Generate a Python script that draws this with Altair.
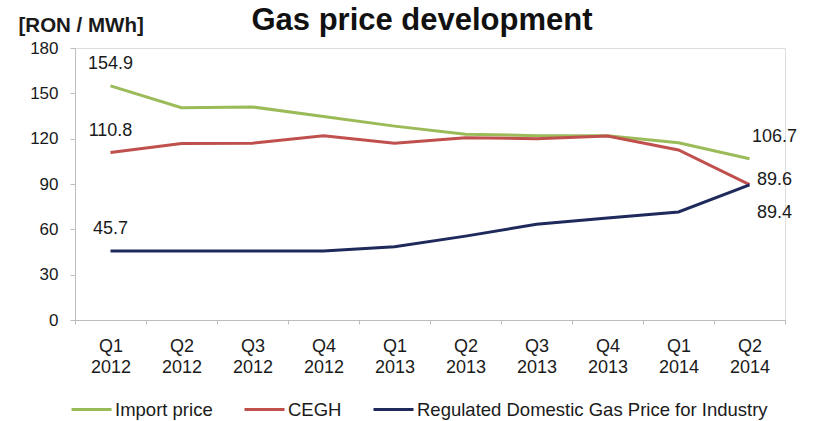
import altair as alt
import pandas as pd

quarters = ["Q1 2012", "Q2 2012", "Q3 2012", "Q4 2012", "Q1 2013",
            "Q2 2013", "Q3 2013", "Q4 2013", "Q1 2014", "Q2 2014"]
series_names = ["Import price", "CEGH", "Regulated Domestic Gas Price for Industry"]
import_price = [154.9, 140.5, 141.0, 134.6, 128.3, 123.0, 122.0, 122.0, 117.3, 106.7]
cegh = [110.8, 116.8, 117.0, 122.0, 117.0, 120.6, 120.0, 121.8, 112.5, 89.6]
regulated = [45.7, 45.7, 45.7, 45.7, 48.5, 55.5, 63.3, 67.5, 71.5, 89.4]
colors = ["#9BBB59", "#C0504D", "#1F2A5C"]
y_ticks = [0, 30, 60, 90, 120, 150, 180]

rows = []
for s, vals in zip(series_names, [import_price, cegh, regulated]):
    for q, v in zip(quarters, vals):
        rows.append({"quarter": q, "series": s, "value": v})
df = pd.DataFrame(rows)

FONT = "Liberation Sans"
TXT = "#1a1a1a"

x_enc = alt.X(
    "quarter:N", sort=quarters,
    scale=alt.Scale(type="band", paddingInner=0, paddingOuter=0),
    axis=alt.Axis(title=None, labelAngle=0, tickBand="extent",
                  labelExpr="split(datum.label, ' ')",
                  labelFont=FONT, labelFontSize=18, labelColor=TXT,
                  labelLineHeight=21, labelPadding=13,
                  domainColor="#BDBDBD", tickColor="#BDBDBD", tickSize=4,
                  grid=False),
)
y_enc = alt.Y(
    "value:Q", scale=alt.Scale(domain=[0, 180]),
    axis=alt.Axis(values=y_ticks, title="[RON / MWh]", titleAngle=0,
                  titleX=-57, titleY=-23, titleAlign="left",
                  titleBaseline="middle", titleFont=FONT, titleFontSize=20.5,
                  titleFontWeight="bold", titleColor=TXT,
                  labelFont=FONT, labelFontSize=17, labelColor=TXT,
                  labelPadding=12, tickSize=5, tickColor="#BDBDBD",
                  domainColor="#BDBDBD", grid=False),
)

base = alt.Chart(df)

lines = base.mark_line(strokeWidth=3).encode(
    x=x_enc, y=y_enc,
    color=alt.Color("series:N",
                    scale=alt.Scale(domain=series_names, range=colors),
                    sort=series_names,
                    legend=alt.Legend(title=None, orient="none",
                                      legendX=-5, legendY=340,
                                      direction="horizontal",
                                      symbolType="stroke", symbolSize=1600,
                                      symbolStrokeWidth=3,
                                      labelFont=FONT, labelFontSize=18.5,
                                      labelColor=TXT, labelOffset=2,
                                      labelLimit=0, columnPadding=25)),
)

def label_layer(flt, dx, dy):
    return base.mark_text(dx=dx, dy=dy, font=FONT, fontSize=18, color=TXT,
                          align="center", baseline="middle").encode(
        x=alt.X("quarter:N", sort=quarters), y="value:Q",
        text=alt.Text("value:Q", format=".1f"),
    ).transform_filter(flt)

start_labels = label_layer(alt.datum.quarter == quarters[0], 0, -22)
end_imp = label_layer((alt.datum.quarter == quarters[-1]) & (alt.datum.series == series_names[0]), 25, -22)
end_cegh = label_layer((alt.datum.quarter == quarters[-1]) & (alt.datum.series == series_names[1]), 25, -5)
end_reg = label_layer((alt.datum.quarter == quarters[-1]) & (alt.datum.series == series_names[2]), 25, 28)

chart = alt.layer(lines, start_labels, end_imp, end_cegh, end_reg).properties(
    width=710, height=272,
    padding={"left": 75, "top": 48, "right": 28, "bottom": 101},
    autosize=alt.AutoSizeParams(type="none"),
    title=alt.TitleParams("Gas price development", font=FONT, fontSize=31,
                          fontWeight="bold", color="#111", anchor="middle",
                          dx=-8, dy=65, baseline="bottom", offset=12),
).configure_view(stroke="#F0F0F0").configure(background="white")

chart.save("out.html", embed_options={"renderer": "svg", "actions": False})
